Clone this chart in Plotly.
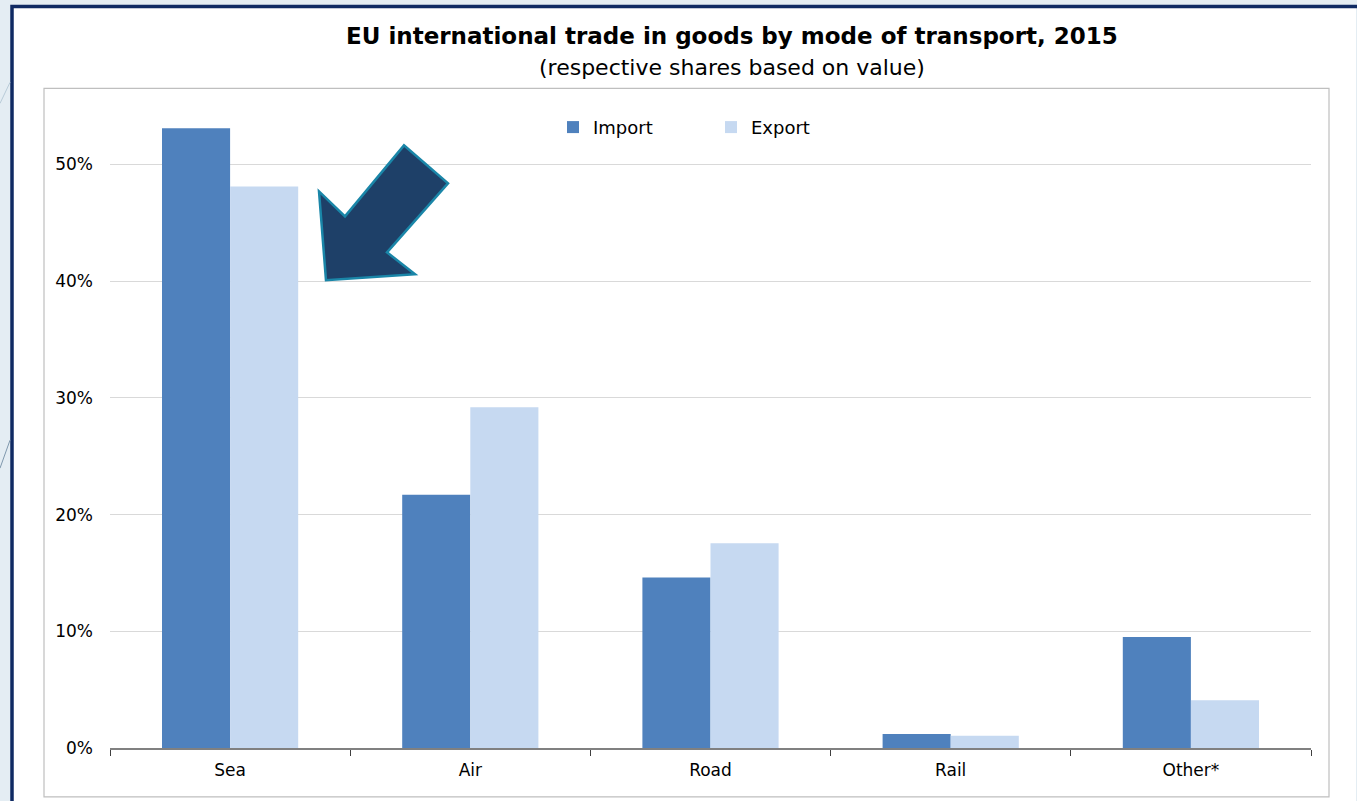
import plotly.graph_objects as go

categories = ["Sea", "Air", "Road", "Rail", "Other*"]
import_share = [53.1, 21.7, 14.6, 1.2, 9.5]
export_share = [48.1, 29.2, 17.55, 1.05, 4.1]
ytick_vals = [0, 10, 20, 30, 40, 50]
ytick_text = ["0%", "10%", "20%", "30%", "40%", "50%"]

W, H = 1357, 801
L, R, T, B = 110, 46, 105.6, 53
FONT = "DejaVu Sans, Liberation Sans, Arial, sans-serif"

def px(x):
    return (x - L) / (W - L - R)

def py(y):
    return (H - B - y) / (H - T - B)

fig = go.Figure()
fig.add_trace(go.Bar(name="Import", x=categories, y=import_share,
                     marker=dict(color="#4f81bd", line=dict(width=0))))
fig.add_trace(go.Bar(name="Export", x=categories, y=export_share,
                     marker=dict(color="#c6d9f1", line=dict(width=0))))

shapes = []
# white card background
shapes.append(dict(type="rect", xref="paper", yref="paper", layer="below",
                   x0=px(12), x1=px(1356), y0=py(801), y1=py(6),
                   fillcolor="white", line=dict(width=0)))
# navy border left/top
shapes.append(dict(type="path", xref="paper", yref="paper", layer="below",
                   path=f"M {px(12)},{py(801)} L {px(12)},{py(6)} L {px(1357)},{py(6)}",
                   line=dict(color="#0f2a63", width=3.5)))
# faint decorative diagonals on left
shapes.append(dict(type="line", xref="paper", yref="paper", layer="below",
                   x0=px(0), y0=py(103), x1=px(10), y1=py(82),
                   line=dict(color="#b8cbd8", width=1)))
shapes.append(dict(type="line", xref="paper", yref="paper", layer="below",
                   x0=px(0), y0=py(468), x1=px(10), y1=py(440),
                   line=dict(color="#7f98ad", width=1)))
# gray chart frame
shapes.append(dict(type="rect", xref="paper", yref="paper", layer="below",
                   x0=px(44), x1=px(1329), y0=py(797), y1=py(88),
                   fillcolor="rgba(0,0,0,0)", line=dict(color="#bfbfbf", width=1.2)))
# arrow
pts = [(326, 280), (319, 191), (345, 216), (404, 145), (448, 183),
       (387, 252), (415, 274)]
path = "M " + " L ".join(f"{px(x)},{py(y)}" for x, y in pts) + " Z"
shapes.append(dict(type="path", xref="paper", yref="paper", layer="above",
                   path=path, fillcolor="#1e4068",
                   line=dict(color="#1a86a8", width=2.5)))

fig.update_layout(
    width=W, height=H,
    margin=dict(l=L, r=R, t=T, b=B, pad=0),
    paper_bgcolor="#e4edf3",
    plot_bgcolor="rgba(0,0,0,0)",
    barmode="group",
    bargap=0.433,
    bargroupgap=0,
    font=dict(family=FONT, color="#000", size=17),
    shapes=shapes,
    showlegend=True,
    legend=dict(orientation="h", x=px(553), y=py(127), xanchor="left", yanchor="middle",
                font=dict(size=18), bgcolor="rgba(0,0,0,0)",
                itemwidth=30, tracegroupgap=0, entrywidth=113, entrywidthmode="pixels"),
    annotations=[
        dict(text="<b>EU international trade in goods by mode of transport, 2015</b>",
             xref="paper", yref="paper", x=px(732), y=py(36), xanchor="center",
             yanchor="middle", showarrow=False, font=dict(size=23)),
        dict(text="(respective shares based on value)",
             xref="paper", yref="paper", x=px(732), y=py(67), xanchor="center",
             yanchor="middle", showarrow=False, font=dict(size=22)),
    ],
    xaxis=dict(range=[-0.5, 4.5], showgrid=False, showline=True,
               linecolor="#808080", linewidth=1.5, ticks="outside",
               tickson="boundaries", ticklen=6, tickcolor="#404040",
               tickfont=dict(size=17), ticklabelstandoff=6, fixedrange=True),
    yaxis=dict(range=[0, 55], tickvals=ytick_vals, ticktext=ytick_text,
               showgrid=True, gridcolor="#d9d9d9", gridwidth=1.2,
               showline=False, zeroline=False, ticks="",
               tickfont=dict(size=17), ticklabelstandoff=16, fixedrange=True),
)

fig.write_html("out.html")
